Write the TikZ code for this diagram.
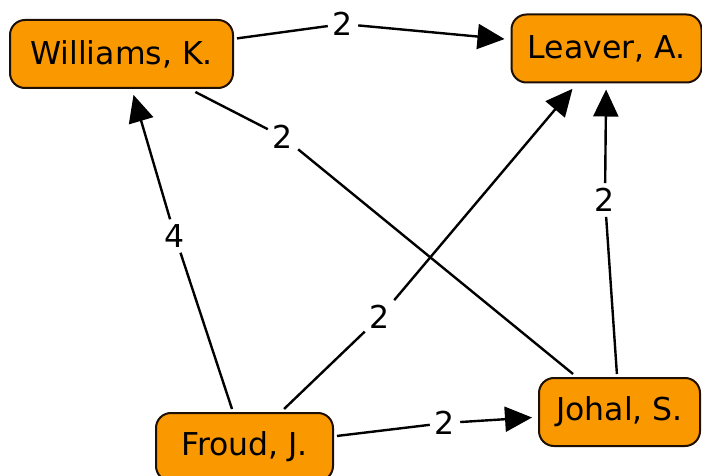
\documentclass[tikz,border=0pt]{standalone}
\usepackage{fontspec}
\setmainfont{DejaVu Sans}
\usetikzlibrary{arrows.meta}
\definecolor{boxorange}{RGB}{250,152,0}
\definecolor{boxline}{RGB}{30,15,5}
\tikzset{
  person/.style={draw=boxline, fill=boxorange, line width=2pt, rounded corners=15pt,
    minimum height=68pt, inner sep=0pt, outer sep=4pt, font=\fontsize{31.5}{36}\selectfont},
  wlabel/.style={inner sep=5pt, font=\fontsize{31.5}{36}\selectfont},
  link/.style={line width=2.4pt, draw=black},
  arrowlink/.style={link, -{Triangle[length=27pt,width=25pt]}, shorten >=3pt}
}
\begin{document}
\begin{tikzpicture}[x=1pt,y=-1pt]
\useasboundingbox (0,0) rectangle (702,476);
\node[person, minimum width=223pt] (W) at (121.5,54) {Williams, K.};
\node[person, minimum width=190pt] (L) at (606.5,48.5) {Leaver, A.};
\node[person, minimum width=177pt] (F) at (244.5,447) {Froud, J.};
\node[person, minimum width=161pt] (J) at (619.5,412) {Johal, S.};

\node[wlabel] (lWL) at (343,24) {2};
\node[wlabel] (lFW) at (175,236) {4};
\node[wlabel] (lFL) at (380,317) {2};
\node[wlabel] (lWJ) at (283,137) {2};
\node[wlabel] (lJL) at (605,200) {2};
\node[wlabel] (lFJ) at (445,423) {2};

\draw[link] (W) -- (lWL);
\draw[arrowlink] (lWL) -- (L);
\draw[link] (F) -- (lFW);
\draw[arrowlink] (lFW) -- (W);
\draw[link] (F) -- (lFL);
\draw[arrowlink] (lFL) -- (L);
\draw[link] (W) -- (lWJ);
\draw[link] (lWJ) -- (J);
\draw[link] (J) -- (lJL);
\draw[arrowlink] (lJL) -- (L);
\draw[link] (F) -- (lFJ);
\draw[arrowlink] (lFJ) -- (J);
\end{tikzpicture}
\end{document}
